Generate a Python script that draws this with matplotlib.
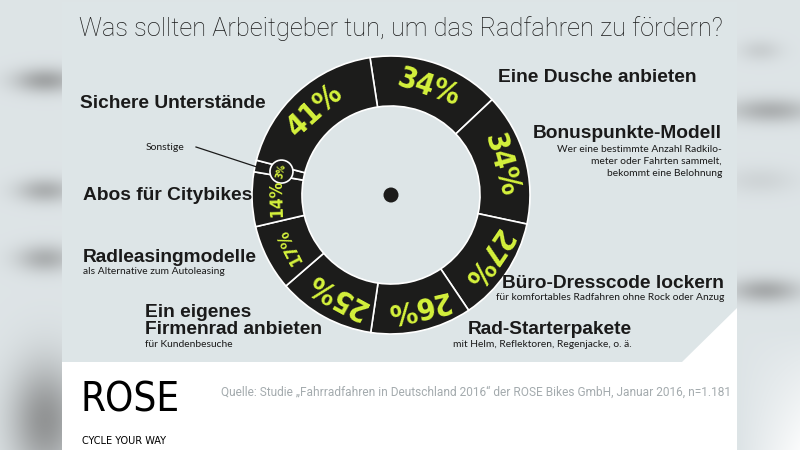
"""Infographic: Was sollten Arbeitgeber tun, um das Radfahren zu foerdern?"""

import numpy as np
import matplotlib

matplotlib.use("Agg")
import matplotlib.pyplot as plt
from matplotlib.patches import Circle, Polygon, Rectangle

# --- data -------------------------------------------------------------------
categories = [
    "Eine Dusche anbieten",
    "Bonuspunkte-Modell",
    "Büro-Dresscode lockern",
    "Rad-Starterpakete",
    "Ein eigenes\nFirmenrad anbieten",
    "Radleasingmodelle",
    "Abos für Citybikes",
    "Sonstige",
    "Sichere Unterstände",
]
shares = [34, 34, 27, 26, 25, 17, 14, 3, 41]
subtitles = [
    "",
    "Wer eine bestimmte Anzahl Radkilo-\nmeter oder Fahrten sammelt,\nbekommt eine Belohnung",
    "für komfortables Radfahren ohne Rock oder Anzug",
    "mit Helm, Reflektoren, Regenjacke, o. ä.",
    "für Kundenbesuche",
    "als Alternative zum Autoleasing",
    "",
    "",
    "",
]
title = "Was sollten Arbeitgeber tun, um das Radfahren zu fördern?"
source = ("Quelle: Studie \u201eFahrradfahren in Deutschland 2016\u201c der ROSE Bikes GmbH, "
          "Januar 2016, n=1.181")

# --- style ------------------------------------------------------------------
W, H = 800, 450
PANEL = "#dde5e7"
RING = "#1c1c1b"
LIME = "#d5f23c"
INK = "#1a1a1a"
CENTER = (391, 195)
R_OUT, R_IN = 139, 89
NARROW = dict(family=["DejaVu Sans"], fontstretch="condensed")
BOLD = ["Liberation Sans", "DejaVu Sans"]
SMALL = ["Lato", "DejaVu Sans"]


def Y(y):
    """Image row (from top) to data y."""
    return H - y


def background():
    """Blurred surroundings of the picture."""
    yy, xx = np.mgrid[0:H, 0:W]
    base = np.array([0.87, 0.895, 0.905])
    img = np.ones((H, W, 3)) * base
    blobs = [  # cx, cy, sx, sy, strength, gray
        (45, 80, 22, 9, 0.55, 0.45),
        (45, 190, 20, 9, 0.45, 0.45),
        (45, 258, 20, 10, 0.45, 0.45),
        (45, 420, 25, 40, 0.7, 0.45),
        (770, 110, 30, 9, 0.45, 0.45),
        (760, 50, 15, 8, 0.2, 0.5),
        (765, 290, 25, 9, 0.5, 0.45),
        (760, 180, 25, 10, 0.15, 0.5),
    ]
    for cx, cy, sx, sy, s, g in blobs:
        a = s * np.exp(-((xx - cx) / sx) ** 2 / 2 - ((yy - cy) / sy) ** 2 / 2)
        img = img * (1 - a[..., None]) + g * a[..., None]
    white = 0.9 * np.clip((yy - 330) / 120, 0, 1) * np.clip((xx - 740) / 60, 0, 1)
    img = img * (1 - white[..., None]) + white[..., None]
    return img


fig = plt.figure(figsize=(8, 4.5), dpi=100)
ax = fig.add_axes([0, 0, 1, 1])
ax.imshow(background(), extent=(0, W, 0, H), origin="upper", zorder=0)

# panel: white base with grey card and a cut corner
ax.add_patch(Rectangle((62, Y(450)), 675, 448, facecolor="white", zorder=1))
ax.add_patch(Polygon([(62, Y(2)), (737, Y(2)), (737, Y(308)), (682, Y(362)), (62, Y(362))],
                     closed=True, facecolor=PANEL, edgecolor="none", zorder=1))

# ring
cx, cy = CENTER[0], Y(CENTER[1])
wedges, _ = ax.pie(
    shares,
    startangle=98.7,
    counterclock=False,
    center=(cx, cy),
    radius=R_OUT,
    colors=[RING] * len(shares),
    wedgeprops=dict(width=R_OUT - R_IN, edgecolor="white", linewidth=1.2, zorder=2),
)
ax.add_patch(Circle((cx, cy), 7.5, facecolor=RING, zorder=3))

r_mid = (R_OUT + R_IN) / 2
for wedge, value in zip(wedges, shares):
    mid = np.deg2rad((wedge.theta1 + wedge.theta2) / 2)
    size = 21.5 if value >= 25 else (12.5 if value >= 10 else 7)
    r_txt = r_mid if value >= 10 else r_mid - 2
    x, y = cx + r_txt * np.cos(mid), cy + r_txt * np.sin(mid)
    if value < 10:
        ax.add_patch(Circle((x, y), 11.5, facecolor=RING, edgecolor="white",
                            linewidth=1.2, zorder=4))
    ax.text(x, y, f"{value}%", color=LIME, fontsize=size, fontweight="bold",
            rotation=np.rad2deg(mid) - 90, rotation_mode="anchor",
            ha="center", va="center", zorder=5, **NARROW)

# category labels: (x, y, ha, sub_y)
label_pos = [
    (498, 78, "left", None),
    (722, 134, "right", 145),
    (724, 283, "right", 293),
    (632, 329, "right", 340),
    (145, 321, "left", 340),
    (83, 257, "left", 267),
    (83, 196, "left", None),
    (184, 147, "right", None),
    (80, 104, "left", None),
]
for name, sub, (x, y, ha, sy) in zip(categories, subtitles, label_pos):
    if name == "Sonstige":
        ax.text(x, Y(y), name, fontsize=7.5, family=SMALL, color=INK,
                ha=ha, va="center", zorder=5)
        ax.plot([196, 257], [Y(147), Y(167)], color=INK, linewidth=0.9, zorder=5)
        continue
    ax.text(x, Y(y), name, fontsize=13.8, fontweight="bold", family=BOLD, color=INK,
            ha=ha, va="center", linespacing=0.95, zorder=5)
    if sub:
        ax.text(x, Y(sy), sub, fontsize=7.4, family=SMALL, color=INK, ha=ha, va="top",
                linespacing=1.4, multialignment=ha, zorder=5)

# title and footer
ax.text(401, Y(29), title, fontsize=18.3, family=["Roboto", "DejaVu Sans"],
        fontweight="light", color=INK, ha="center", va="center", zorder=5)
ax.text(80, Y(400), "ROSE", fontsize=29, color="black",
        ha="left", va="center", zorder=5, **NARROW)
ax.text(82, Y(441), "CYCLE YOUR WAY", fontsize=7.8, color="black",
        ha="left", va="center", zorder=5, **NARROW)
ax.text(731, Y(392), source, fontsize=8.6, family=["Roboto", "DejaVu Sans"],
        color="#a4abae", ha="right", va="center", zorder=5)

ax.set_xlim(0, W)
ax.set_ylim(0, H)
ax.set_aspect("equal")
ax.axis("off")
fig.savefig("out.png", dpi=100)
